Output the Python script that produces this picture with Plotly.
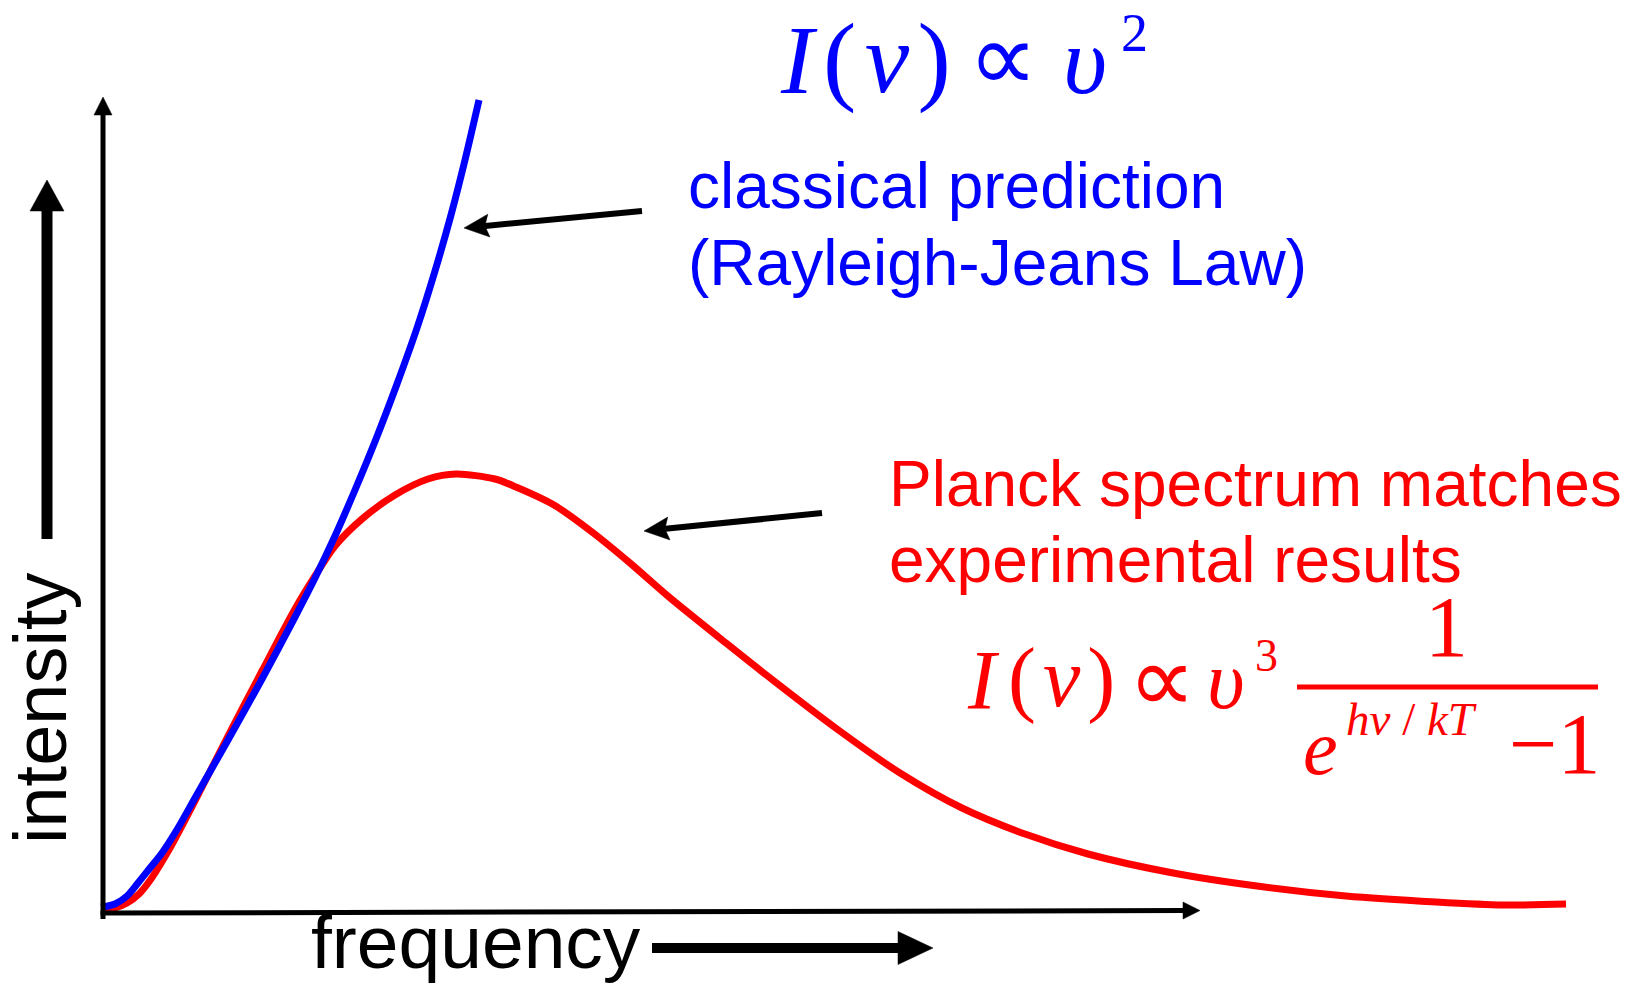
import math
import plotly.graph_objects as go

# Spectral intensity vs frequency (arbitrary units)
planck_freq = [0.00, 0.12, 0.24, 0.36, 0.48, 0.60, 0.72, 0.92, 1.25, 1.59, 1.92, 2.12,
               2.32, 2.59, 2.92, 3.25, 3.53, 3.92, 4.13, 4.51, 4.89, 5.27, 5.66, 6.23,
               6.71, 7.34, 7.97, 8.59, 9.22, 9.85, 10.65, 11.54, 12.43, 13.33, 14.00, 14.63]
planck_int = [0.03, 0.05, 0.10, 0.19, 0.34, 0.53, 0.74, 1.12, 1.77, 2.42, 3.04, 3.37,
              3.67, 3.94, 4.18, 4.34, 4.39, 4.34, 4.26, 4.08, 3.81, 3.50, 3.16, 2.70,
              2.32, 1.84, 1.40, 1.05, 0.79, 0.59, 0.41, 0.27, 0.17, 0.11, 0.08, 0.09]

rj_freq = [-0.02, 0.05, 0.12, 0.24, 0.35, 0.47, 0.59, 0.75, 0.92, 1.25, 1.59, 1.92,
           2.12, 2.32, 2.52, 2.73, 2.94, 3.14, 3.32, 3.48, 3.62, 3.76]
rj_int = [0.06, 0.07, 0.09, 0.17, 0.30, 0.45, 0.60, 0.85, 1.15, 1.73, 2.34, 2.96,
          3.35, 3.77, 4.23, 4.74, 5.29, 5.85, 6.42, 6.98, 7.53, 8.13]

RED = "#ff0000"
BLUE = "#0000ff"
SANS = "Liberation Sans, Arial, sans-serif"
SERIF = "Liberation Serif, Times New Roman, serif"
PX = 100.0  # pixels per axis unit (same on both axes)
HAIR = "\u200a"

fig = go.Figure()
fig.add_trace(go.Scatter(x=planck_freq, y=planck_int, mode="lines",
                         line=dict(color=RED, width=7, shape="spline", smoothing=0.8),
                         hoverinfo="skip"))
fig.add_trace(go.Scatter(x=rj_freq, y=rj_int, mode="lines",
                         line=dict(color=BLUE, width=7, shape="spline", smoothing=0.8),
                         hoverinfo="skip"))

shapes = []


def arrow(x0, y0, x1, y1, shaft, head_len, head_w, notch=0.0, color="black"):
    """Thick line with a filled triangular head; sizes given in pixels."""
    dx, dy = x1 - x0, y1 - y0
    L = math.hypot(dx, dy)
    ux, uy = dx / L, dy / L
    nx, ny = -uy, ux
    hl, hw, nt = head_len / PX, head_w / PX / 2, notch / PX
    bx, by = x1 - ux * hl, y1 - uy * hl
    shapes.append(dict(type="line", x0=x0, y0=y0,
                       x1=bx + ux * (nt + 0.02), y1=by + uy * (nt + 0.02),
                       line=dict(color=color, width=shaft), layer="above"))
    path = (f"M{x1},{y1} L{bx + nx * hw},{by + ny * hw} "
            f"L{bx + ux * nt},{by + uy * nt} L{bx - nx * hw},{by - ny * hw} Z")
    shapes.append(dict(type="path", path=path, fillcolor=color,
                       line=dict(color=color, width=0.5), layer="above"))


# axes
arrow(0, -0.06, 0, 8.16, 5, 18, 18)
arrow(-0.025, 0, 10.97, 0.025, 5, 17, 17)
# direction arrows beside the axis titles
arrow(-0.56, 3.74, -0.56, 7.33, 11, 31, 34)
arrow(5.49, -0.35, 8.30, -0.35, 10, 35, 33)
# pointers to the curves
arrow(5.39, 7.02, 3.61, 6.85, 6, 25, 23, notch=4)
arrow(7.19, 4.00, 5.41, 3.82, 6, 25, 23, notch=4)

# fraction bar of the Planck formula
shapes.append(dict(type="line", x0=11.94, y0=2.26, x1=14.95, y1=2.26,
                   line=dict(color=RED, width=5), layer="above"))


def label(x, y, text, size, color, family=SANS, xanchor="left", angle=0):
    return dict(x=x, y=y, xref="x", yref="y", text=text, showarrow=False,
                xanchor=xanchor, yanchor="middle", textangle=angle,
                font=dict(family=family, size=size, color=color), borderpad=0)


def formula(parts, color):
    """Place formula pieces one by one: (x, y, text, size)."""
    return [label(x, y, t, s, color, SERIF) for x, y, t, s in parts]


annotations = [
    label(5.84, 7.27, "classical prediction", 64, BLUE),
    label(5.84, 6.50, "(Rayleigh-Jeans Law)", 64, BLUE),
    label(7.85, 4.29, "Planck spectrum matches", 64, RED),
    label(7.85, 3.53, "experimental results", 64, RED),
    label(2.07, -0.29, "frequency", 75, "black"),
    label(-0.63, 2.04, "intensity", 74, "black", xanchor="center", angle=-90),
]

nu = f"({HAIR}<i>ν</i>{HAIR})"

# Rayleigh-Jeans law:  I(ν) ∝ υ²
annotations += formula([
    (6.76, 8.53, "<i>I</i>", 98),
    (7.19, 8.55, nu, 100),
    (8.64, 8.55, "∝", 98),
    (9.59, 8.53, "<i>υ</i>", 96),
    (10.17, 8.80, "2", 54),
], BLUE)

# Planck law:  I(ν) ∝ υ³ · 1 / (e^{hν/kT} − 1)
annotations += formula([
    (8.63, 2.33, "<i>I</i>", 84),
    (9.04, 2.35, nu, 84),
    (10.24, 2.33, "∝", 95),
    (11.03, 2.33, "<i>υ</i>", 82),
    (11.51, 2.58, "3", 46),
    (13.21, 2.86, "1", 86),
    (11.99, 1.66, "<i>e</i>", 78),
    (12.42, 1.94, "<i>hν</i> / <i>kT</i>", 47),
    (14.05, 1.69, "−1", 86),
], RED)

fig.update_layout(
    width=1640, height=988,
    margin=dict(l=0, r=0, t=0, b=0),
    paper_bgcolor="white", plot_bgcolor="white",
    showlegend=False,
    xaxis=dict(range=[-1.03, 15.37], visible=False, fixedrange=True),
    yaxis=dict(range=[-0.75, 9.13], visible=False, fixedrange=True),
    shapes=shapes,
    annotations=annotations,
)

fig.write_html("out.html")
